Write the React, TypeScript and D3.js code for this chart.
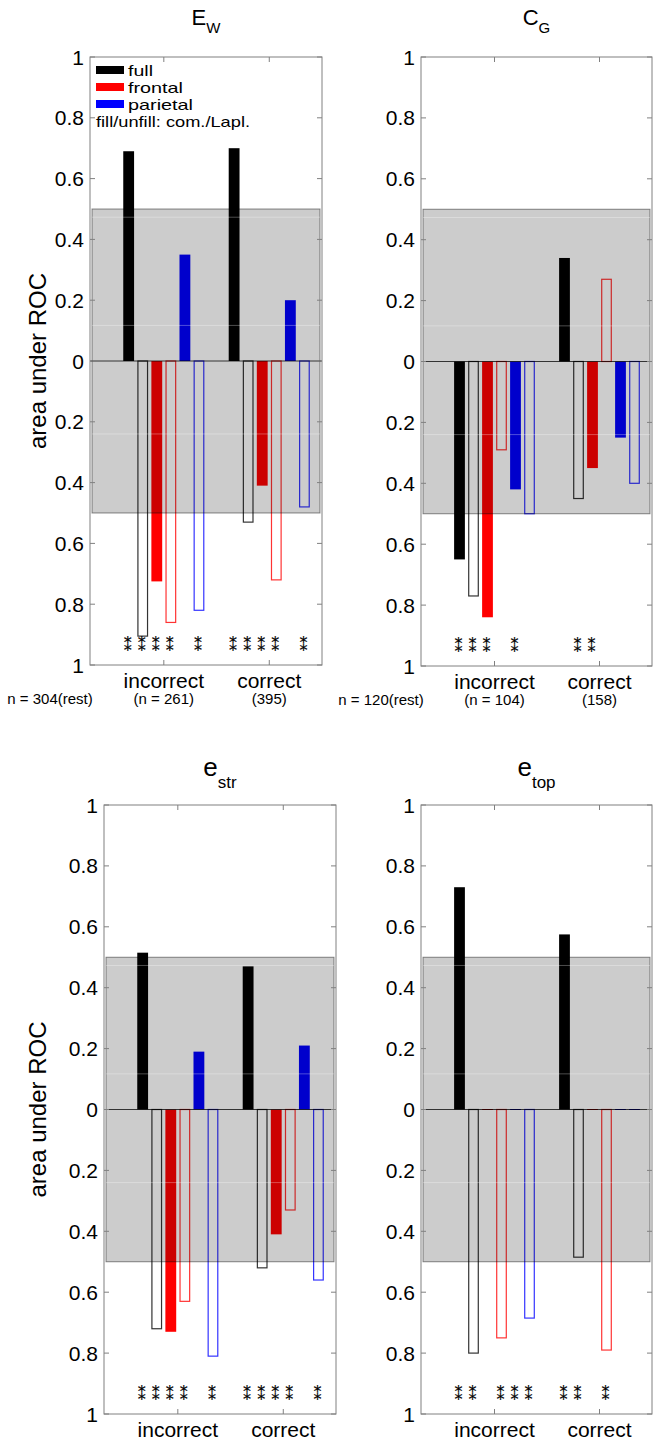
import React from "react";
import * as d3 from "d3";

// ---------- data ----------
const groups = ["incorrect", "correct"];
// six bars per group: full com., full Lapl., frontal com., frontal Lapl., parietal com., parietal Lapl.
const seriesRegion = ["full", "full", "frontal", "frontal", "parietal", "parietal"];
const seriesFilled = [true, false, true, false, true, false];
const legendLabels = ["full", "frontal", "parietal"];
const legendNote = "fill/unfill: com./Lapl.";
const yTickValues = [1, 0.8, 0.6, 0.4, 0.2, 0, -0.2, -0.4, -0.6, -0.8, -1];
const chanceBand = [-0.5, 0.5];
const sigMark = "\u2051";

// E_W
const ewIncorrect = [0.69, -0.905, -0.725, -0.86, 0.35, -0.82];
const ewCorrect = [0.7, -0.53, -0.41, -0.72, 0.2, -0.48];
const ewSigIncorrect = [0, 1, 2, 3, 5];
const ewSigCorrect = [0, 1, 2, 3, 5];
const ewCounts = ["n = 304(rest)", "(n = 261)", "(395)"];

// C_G
const cgIncorrect = [-0.65, -0.77, -0.84, -0.29, -0.42, -0.5];
const cgCorrect = [0.34, -0.45, -0.35, 0.27, -0.25, -0.4];
const cgSigIncorrect = [0, 1, 2, 4];
const cgSigCorrect = [1, 2];
const cgCounts = ["n = 120(rest)", "(n = 104)", "(158)"];

// e_str
const estrIncorrect = [0.515, -0.72, -0.73, -0.63, 0.19, -0.81];
const estrCorrect = [0.47, -0.52, -0.41, -0.33, 0.21, -0.56];
const estrSigIncorrect = [0, 1, 2, 3, 5];
const estrSigCorrect = [0, 1, 2, 3, 5];

// e_top
const etopIncorrect = [0.73, -0.8, 0, -0.75, 0, -0.685];
const etopCorrect = [0.575, -0.485, 0, -0.79, 0, 0];
const etopSigIncorrect = [0, 1, 3, 4, 5];
const etopSigCorrect = [0, 1, 3];

// ---------- style ----------
const regionColor: Record<string, string> = { full: "#000000", frontal: "#ff0000", parietal: "#0000ff" };
const FONT = "'Liberation Sans', Arial, Helvetica, sans-serif";
const AXIS_COLOR = "#808080";
const faintLines = [0.473, 0.117, -0.24];
const legendTextWidths = [25, 55, 65];
const legendNoteWidth = 154;

type Panel = {
  title: string; sub: string; titleSize: number; subSize: number; subDy: number; titleY: number;
  values: number[][]; sig: number[][]; counts?: string[];
  left: number; top: number; width: number; height: number; legend?: boolean; ylabel?: boolean;
};

const panels: Panel[] = [
  { title: "E", sub: "W", titleSize: 22, subSize: 15, subDy: 8, titleY: 25,
    values: [ewIncorrect, ewCorrect], sig: [ewSigIncorrect, ewSigCorrect], counts: ewCounts,
    left: 90, top: 57, width: 232, height: 608, legend: true, ylabel: true },
  { title: "C", sub: "G", titleSize: 22, subSize: 15, subDy: 8, titleY: 25,
    values: [cgIncorrect, cgCorrect], sig: [cgSigIncorrect, cgSigCorrect], counts: cgCounts,
    left: 421, top: 57, width: 231, height: 609 },
  { title: "e", sub: "str", titleSize: 26, subSize: 17, subDy: 12, titleY: 776,
    values: [estrIncorrect, estrCorrect], sig: [estrSigIncorrect, estrSigCorrect],
    left: 104, top: 805, width: 232, height: 609, ylabel: true },
  { title: "e", sub: "top", titleSize: 26, subSize: 17, subDy: 12, titleY: 776,
    values: [etopIncorrect, etopCorrect], sig: [etopSigIncorrect, etopSigCorrect],
    left: 421, top: 805, width: 231, height: 609 },
];

function PanelView({ p }: { p: Panel }) {
  const x = d3.scaleLinear().domain([0.3, 2.5]).range([p.left, p.left + p.width]);
  const y = d3.scaleLinear().domain([-1, 1]).range([p.top + p.height, p.top]);
  const nSeries = seriesRegion.length;
  const step = 0.8 / nSeries;
  const barW = x(step * 0.77) - x(0);
  const groupPos = groups.map((_, i) => i + 1);
  const right = p.left + p.width;
  const bottom = p.top + p.height;
  const tickLen = 5;
  const starY = bottom - 20;

  const bars: React.ReactNode[] = [];
  const stars: React.ReactNode[] = [];
  groupPos.forEach((g, gi) => {
    p.values[gi].forEach((v, si) => {
      const cx = x(g + (si - (nSeries - 1) / 2) * step);
      const color = regionColor[seriesRegion[si]];
      const y0 = y(0);
      const y1 = y(v);
      const key = `b${gi}-${si}`;
      if (Math.abs(y1 - y0) < 0.5) {
        bars.push(<line key={key} x1={cx - barW / 2} x2={cx + barW / 2} y1={y0} y2={y0} stroke={color} strokeWidth={1} />);
      } else if (seriesFilled[si]) {
        bars.push(<rect key={key} x={cx - barW / 2} y={Math.min(y0, y1)} width={barW} height={Math.abs(y1 - y0)} fill={color} />);
      } else {
        bars.push(<rect key={key} x={cx - barW / 2 + 0.6} y={Math.min(y0, y1)} width={barW - 1.2} height={Math.abs(y1 - y0)} fill="none" stroke={color} strokeOpacity={0.8} strokeWidth={1.2} />);
      }
    });
    p.sig[gi].forEach((si) => {
      const cx = x(g + (si - (nSeries - 1) / 2) * step) - 1;
      stars.push(
        <text key={`s${gi}-${si}`} x={cx} y={starY} dy="0.4em" textAnchor="middle" fontSize={16}
          fontFamily="'DejaVu Sans', sans-serif" fill="#000" stroke="#000" strokeWidth={0.2}>
          {sigMark}
        </text>
      );
    });
  });

  const bandTop = y(chanceBand[1]);
  const bandBot = y(chanceBand[0]);
  const legendStep = 17;

  return (
    <g>
      {/* title */}
      <text x={p.left + p.width / 2} y={p.titleY} textAnchor="middle" fontFamily={FONT} fill="#000">
        <tspan fontSize={p.titleSize}>{p.title}</tspan>
        <tspan fontSize={p.subSize} dy={p.subDy}>{p.sub}</tspan>
      </text>
      {bars}
      {/* chance band overlay */}
      <rect x={p.left + 2} y={bandTop} width={p.width - 4} height={bandBot - bandTop}
        fill="#000" fillOpacity={0.2} stroke="#000" strokeOpacity={0.45} strokeWidth={1} />
      {faintLines.map((v, i) => (
        <line key={`f${i}`} x1={p.left + 2} x2={right - 2} y1={y(v)} y2={y(v)} stroke="#fff" strokeOpacity={0.3} strokeWidth={1} />
      ))}
      {/* zero line */}
      <line x1={p.left} x2={right} y1={y(0)} y2={y(0)} stroke="#000" strokeOpacity={0.75} strokeWidth={1} />
      {stars}
      {/* axes box */}
      <rect x={p.left} y={p.top} width={p.width} height={p.height} fill="none" stroke={AXIS_COLOR} strokeWidth={1} />
      {yTickValues.map((t) => (
        <g key={`yt${t}`}>
          <line x1={p.left} x2={p.left + tickLen} y1={y(t)} y2={y(t)} stroke={AXIS_COLOR} />
          <line x1={right} x2={right - tickLen} y1={y(t)} y2={y(t)} stroke={AXIS_COLOR} />
          <text x={p.left - 6} y={y(t)} dy="0.36em" textAnchor="end" fontSize={21} fontFamily={FONT} fill="#000">
            {d3.format("~g")(Math.abs(t))}
          </text>
        </g>
      ))}
      {groupPos.map((g, gi) => (
        <g key={`xt${gi}`}>
          <line x1={x(g)} x2={x(g)} y1={bottom} y2={bottom - tickLen} stroke={AXIS_COLOR} />
          <line x1={x(g)} x2={x(g)} y1={p.top} y2={p.top + tickLen} stroke={AXIS_COLOR} />
          <text x={x(g)} y={bottom + 23} textAnchor="middle" fontSize={21} fontFamily={FONT} fill="#000">
            {groups[gi]}
          </text>
        </g>
      ))}
      {p.counts && (
        <g fontSize={15} fontFamily={FONT} fill="#000">
          <text x={p.left - 40} y={bottom + 39} textAnchor="middle">{p.counts[0]}</text>
          <text x={x(groupPos[0])} y={bottom + 39} textAnchor="middle">{p.counts[1]}</text>
          <text x={x(groupPos[1])} y={bottom + 39} textAnchor="middle">{p.counts[2]}</text>
        </g>
      )}
      {p.ylabel && (
        <text transform={`translate(${46},${y(0)}) rotate(-90)`} textAnchor="middle" fontSize={24} fontFamily={FONT} fill="#000">
          area under ROC
        </text>
      )}
      {p.legend && (
        <g fontFamily={FONT} fontSize={15} fill="#000">
          {legendLabels.map((lab, i) => (
            <g key={lab}>
              <rect x={p.left + 6} y={p.top + 9 + i * legendStep} width={28} height={8} fill={regionColor[lab]} />
              <text x={p.left + 38} y={p.top + 19 + i * legendStep} textLength={legendTextWidths[i]} lengthAdjust="spacingAndGlyphs">{lab}</text>
            </g>
          ))}
          <text x={p.left + 6} y={p.top + 19 + 3 * legendStep} textLength={legendNoteWidth} lengthAdjust="spacingAndGlyphs">{legendNote}</text>
        </g>
      )}
    </g>
  );
}

export default function App() {
  return (
    <svg width={660} height={1445} style={{ position: "absolute", left: 0, top: 0, background: "#fff" }}>
      <rect x={0} y={0} width={660} height={1445} fill="#fff" />
      {panels.map((p, i) => (
        <PanelView key={i} p={p} />
      ))}
    </svg>
  );
}
